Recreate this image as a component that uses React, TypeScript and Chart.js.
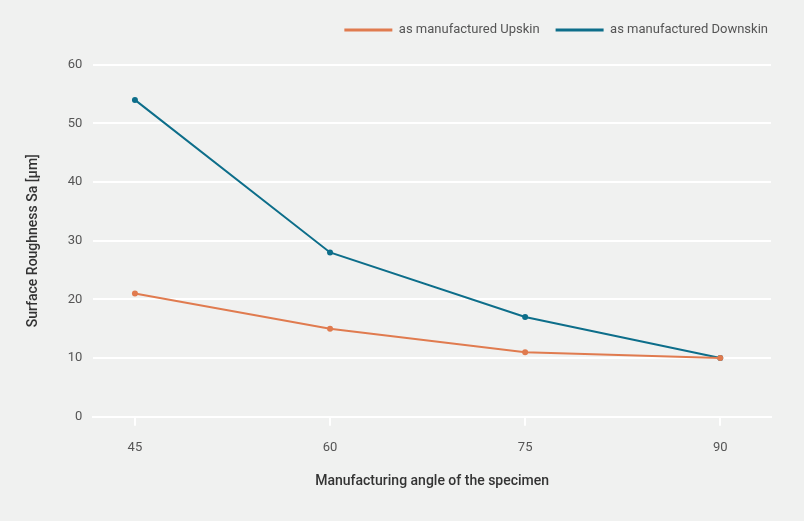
import { useEffect, useRef } from "react"
import { Chart, registerables } from "chart.js"

Chart.register(...registerables)

// values
const angles = [45, 60, 75, 90]
const upskin = [21, 15, 11, 10]
const downskin = [54, 28, 17, 10]
const yTicks = [0, 10, 20, 30, 40, 50, 60]

const ORANGE = "#e07b4f"
const TEAL = "#0d6e8a"
const COLORS = [ORANGE, TEAL]
const FONT = "Roboto, 'Noto Sans', sans-serif"

export default function App() {
  const chartRef = useRef<HTMLCanvasElement>(null)
  const chartInstance = useRef<Chart | null>(null)

  useEffect(() => {
    if (!chartRef.current) return

    if (chartInstance.current) {
      chartInstance.current.destroy()
    }

    const ctx = chartRef.current.getContext("2d")
    if (!ctx) return

    chartInstance.current = new Chart(ctx, {
      type: "line",
      data: {
        datasets: [
          {
            label: "as manufactured Upskin",
            data: angles.map((a, i) => ({ x: a, y: upskin[i] })),
            borderColor: ORANGE,
            backgroundColor: ORANGE,
            borderWidth: 2,
            pointRadius: 3,
            pointBorderWidth: 0,
            xAxisID: "x",
            yAxisID: "y",
          },
          {
            label: "as manufactured Downskin",
            data: angles.map((a, i) => ({ x: a, y: downskin[i] })),
            borderColor: TEAL,
            backgroundColor: TEAL,
            borderWidth: 2,
            pointRadius: 3,
            pointBorderWidth: 0,
            xAxisID: "x",
            yAxisID: "y",
          },
        ],
      },
      options: {
        responsive: true,
        maintainAspectRatio: false,
        animation: false,
        layout: { padding: { top: 7.5, right: 20, bottom: 0, left: 0 } },
        plugins: {
          tooltip: { enabled: false },
          legend: {
            position: "top",
            align: "end",
            labels: {
              usePointStyle: true,
              pointStyle: "line",
              pointStyleWidth: 48,
              padding: 16,
              color: "#555",
              font: { family: FONT, size: 13 },
              generateLabels: (chart) =>
                Chart.defaults.plugins.legend.labels
                  .generateLabels(chart)
                  .map((l) => ({
                    ...l,
                    lineWidth: 3,
                    strokeStyle: COLORS[l.datasetIndex ?? 0],
                    fillStyle: COLORS[l.datasetIndex ?? 0],
                  })),
            },
          },
        },
        scales: {
          x: {
            type: "linear",
            position: "bottom",
            min: 41.8,
            max: 93.9,
            afterBuildTicks: (s) => {
              s.ticks = angles.map((v) => ({ value: v }))
            },
            afterFit: (s) => {
              s.height = 104.3
            },
            grid: {
              drawOnChartArea: false,
              drawTicks: true,
              tickLength: 9,
              color: "#ffffff",
              lineWidth: 2,
            },
            border: { display: true, color: "#ffffff", width: 2 },
            ticks: {
              padding: 14,
              color: "#555",
              font: { family: FONT, size: 13 },
            },
            title: {
              display: true,
              text: "Manufacturing angle of the specimen",
              color: "#333",
              font: { family: FONT, size: 14, weight: 500 },
              padding: { top: 0, bottom: 31.2 },
            },
          },
          xTop: {
            type: "linear",
            position: "top",
            display: true,
            grid: { display: false, drawTicks: false },
            border: { display: false },
            ticks: { display: false },
            afterFit: (s) => {
              s.height = 18.2
            },
          },
          y: {
            type: "linear",
            position: "left",
            min: 0,
            max: 60,
            afterBuildTicks: (s) => {
              s.ticks = yTicks.map((v) => ({ value: v }))
            },
            afterFit: (s) => {
              s.width = 93.3
            },
            grid: {
              color: "#ffffff",
              lineWidth: 2,
              drawTicks: false,
            },
            border: { display: false },
            ticks: {
              padding: 11,
              color: "#555",
              font: { family: FONT, size: 13 },
            },
            title: {
              display: true,
              text: "Surface Roughness Sa [µm]",
              color: "#333",
              font: { family: FONT, size: 14, weight: 500 },
              padding: { top: 24.6, bottom: 0 },
            },
          },
          yRight: {
            type: "linear",
            position: "right",
            display: true,
            grid: { display: false, drawTicks: false },
            border: { display: false },
            ticks: { display: false },
            afterFit: (s) => {
              s.width = 13
            },
          },
        },
      },
    })

    return () => {
      if (chartInstance.current) {
        chartInstance.current.destroy()
        chartInstance.current = null
      }
    }
  }, [])

  return (
    <div
      style={{
        position: "fixed",
        left: 0,
        top: 0,
        width: 804,
        height: 521,
        background: "#f0f1f0",
      }}
    >
      <canvas ref={chartRef} />
    </div>
  )
}
